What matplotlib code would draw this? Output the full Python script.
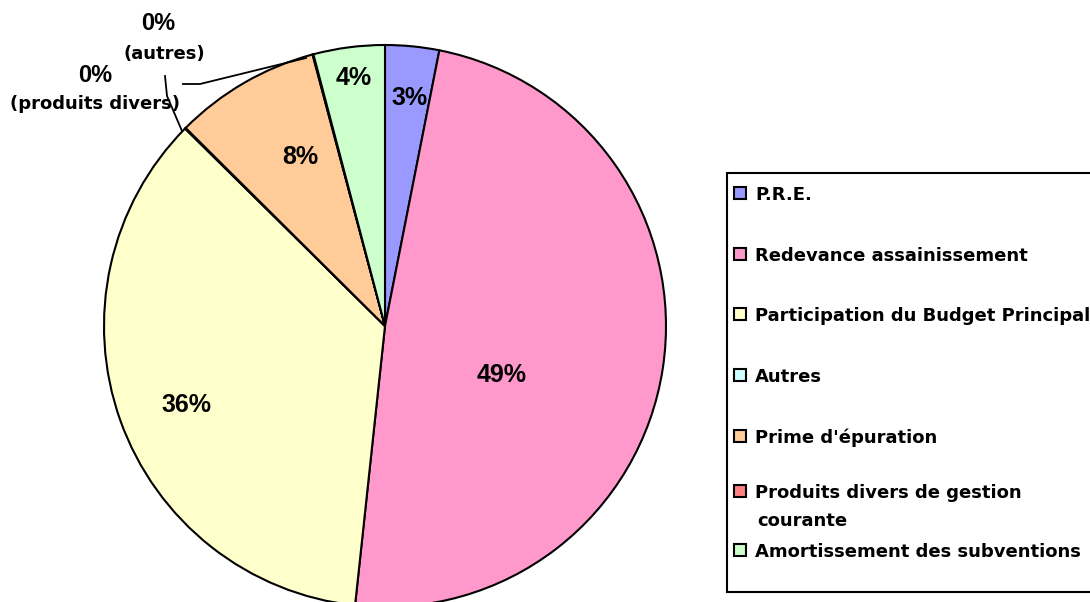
import matplotlib.pyplot as plt
from matplotlib.patches import Rectangle

# Recettes (parts en %)
categories = ["P.R.E.", "Redevance assainissement", "Participation du Budget Principal",
              "Autres", "Prime d'épuration", "Produits divers de gestion\ncourante",
              "Amortissement des subventions"]
values = [3.1, 48.6, 35.7, 0.05, 8.4, 0.05, 4.1]
colors = ["#9999FF", "#FF99CC", "#FFFFCC", "#CCFFFF", "#FFCC99", "#FF8080", "#CCFFCC"]

W, H = 1090, 602
fig = plt.figure(figsize=(W / 100, H / 100), dpi=100)
plt.rcParams['font.family'] = ['Liberation Sans', 'DejaVu Sans']

# pie centre / radius in pixels
cx, cy, R = 385, 326, 281
ax = fig.add_axes([(cx - R) / W, (H - cy - R) / H, 2 * R / W, 2 * R / H])

wedges, _ = ax.pie(values, colors=colors, startangle=90, counterclock=False, radius=1,
                   wedgeprops=dict(edgecolor="black", linewidth=1.5))
ax.set_xlim(-1, 1)
ax.set_ylim(-1, 1)
ax.axis("off")


def d(px, py):
    # pixel -> pie data coords
    return (px - cx) / R, (cy - py) / R


total = sum(values)
pcts = ["%d%%" % round(v / total * 100) for v in values]

# label positions (pixels) for the visible slices
label_pos = {0: (410, 98), 1: (502, 375), 2: (186, 405), 4: (300, 157), 6: (354, 78)}
for i, (px, py) in label_pos.items():
    ax.text(*d(px, py), pcts[i], ha="center", va="center", fontsize=18, fontweight="bold")

# the two 0% slices, labelled outside with leader lines
ax.text(*d(158, 24), pcts[3], ha="center", va="center", fontsize=17, fontweight="bold")
ax.text(*d(95, 75), pcts[5], ha="center", va="center", fontsize=17, fontweight="bold")
sub = dict(ha="center", va="center", fontweight="bold", fontsize=13, family=["DejaVu Sans"])
ax.text(*d(164, 54), "(autres)", **sub)
ax.text(*d(95, 104), "(produits divers)", **sub)

l1 = [d(183, 84), d(200, 84), d(306, 58)]
l2 = [d(165, 76), d(167, 96), d(182, 131)]
for ln in (l1, l2):
    ax.plot([p[0] for p in ln], [p[1] for p in ln], color="black", lw=1.3, clip_on=False)


# legend drawn in figure pixel space
def f(px, py):
    return px / W, 1 - py / H


x0, y0 = f(727, 592)
x1, y1 = f(1100, 173)
fig.patches.append(Rectangle((x0, y0), x1 - x0, y1 - y0, transform=fig.transFigure,
                             facecolor="white", edgecolor="black", linewidth=1.5))
baselines = [200, 261, 321, 382, 443, 498, 557]
for lab, col, yy in zip(categories, colors, baselines):
    sx, sy = f(734, yy - 1)
    fig.patches.append(Rectangle((sx, sy), 12 / W, 12 / H, transform=fig.transFigure,
                                 facecolor=col, edgecolor="black", linewidth=1.5))
    for k, line in enumerate(lab.split("\n")):
        tx, ty = f(755 + 2 * k, yy + 28 * k)
        fig.text(tx, ty, line, ha="left", va="baseline", fontsize=13, fontweight="bold",
                 family=["DejaVu Sans"])

fig.savefig("out.png", dpi=100)
